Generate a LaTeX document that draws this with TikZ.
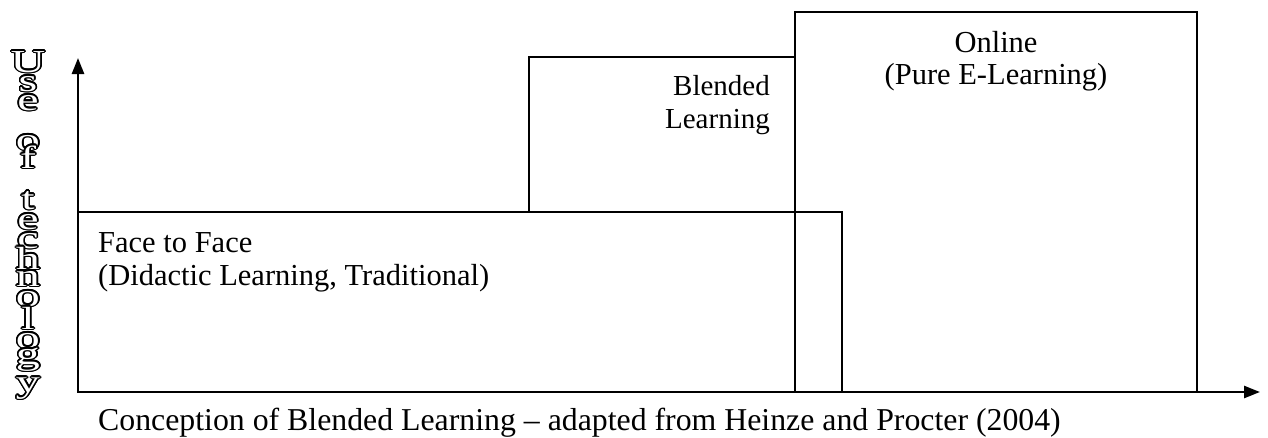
\documentclass[tikz,border=0pt]{standalone}
\usepackage{fontspec}
\setmainfont{Liberation Serif}
\usepackage{contour}
\usetikzlibrary{arrows.meta}
\contourlength{1.1pt}

\begin{document}
\begin{tikzpicture}[x=1pt,y=-1pt,
  box/.style={draw,line width=1.5pt},
  axis/.style={line width=2.5pt,-{Triangle[length=16pt,width=12pt]}},
  lbl/.style={font=\fontsize{29}{33}\selectfont,inner sep=0pt},
  vlbl/.style={font=\fontsize{32}{32}\selectfont,inner sep=0pt,anchor=base}]
\useasboundingbox (0,0) rectangle (1268,437);

% axes
\coordinate (origin) at (78,392);
\coordinate (ytop) at (78,58);
\coordinate (xend) at (1260,392);

% the three boxes
\draw[box] (origin) rectangle (842,212);
\draw[box] (529,212) rectangle (795,57);
\draw[box] (795,392) rectangle (1197,12);

\draw[axis] (origin) -- (ytop);
\draw[axis] (origin) -- (xend);

% texts
\node[lbl,font=\fontsize{30.5}{33}\selectfont,anchor=north west,align=left] (face) at (98,232)
  {Face to Face\\(Didactic Learning, Traditional)};
\node[lbl,anchor=north east,align=right] (blended) at (770,75)
  {Blended\\Learning};
\node[lbl,font=\fontsize{30.5}{32}\selectfont,anchor=north,align=center] (online) at (996,31)
  {Online\\(Pure E-Learning)};
\node[lbl,font=\fontsize{31.8}{33}\selectfont,anchor=base west] (caption) at (98,430)
  {Conception of Blended Learning -- adapted from Heinze and Procter (2004)};

% vertical axis label, one letter under the other
\foreach \ch/\yb [count=\i] in {U/72,s/91,e/110,o/150,f/168,t/209,e/229,c/248,
    h/269,n/286,o/306,l/329,o/348,g/364,y/392}
  \node[vlbl] (use\i) at (28,\yb) {\scalebox{1.5}[1]{\contour{black}{\textcolor{white}{\ch}}}};
\end{tikzpicture}
\end{document}
